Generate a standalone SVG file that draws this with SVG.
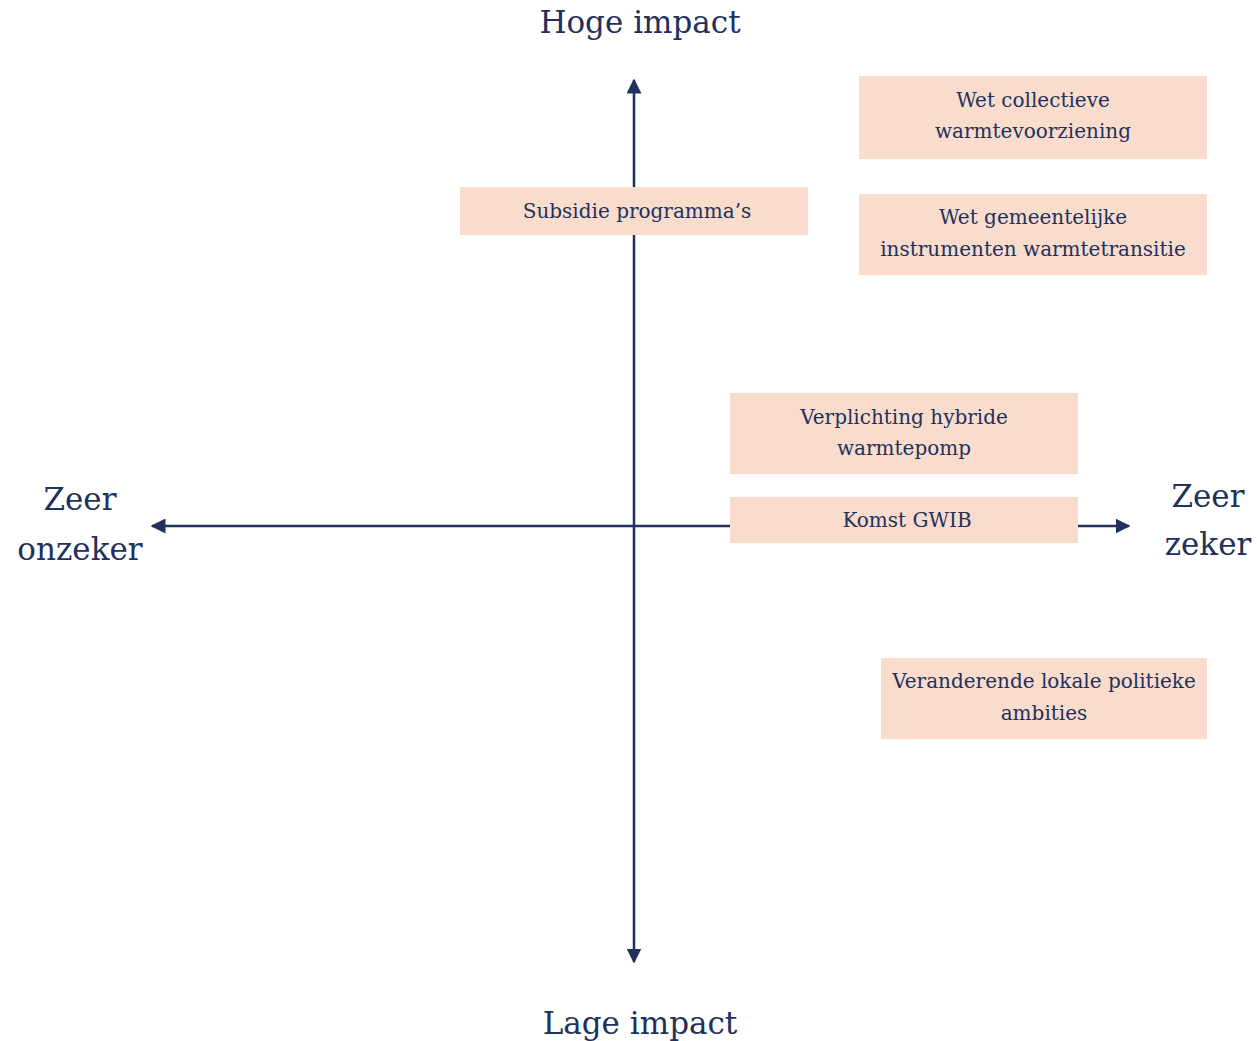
<svg xmlns="http://www.w3.org/2000/svg" width="1257" height="1041" viewBox="0 0 1257 1041">
<defs>
<style>
.box{fill:#f9dccc}
.t{font-family:"DejaVu Serif","Liberation Serif",serif;font-size:20px;fill:#22315c;text-anchor:middle}
.big{font-family:"DejaVu Serif","Liberation Serif",serif;font-size:31px;fill:#22315c;text-anchor:middle}
.ax{stroke:#22315c;stroke-width:2.5;fill:none}
</style>
<marker id="ah" viewBox="0 0 10 10" refX="9" refY="5" markerWidth="6" markerHeight="6" orient="auto-start-reverse" markerUnits="strokeWidth">
<path d="M0,0 L10,5 L0,10 z" fill="#22315c"/>
</marker>
</defs>
<rect width="1257" height="1041" fill="#ffffff"/>
<g id="connectors">
<line class="ax" x1="634" y1="80" x2="634" y2="962" marker-start="url(#ah)" marker-end="url(#ah)"/>
<line class="ax" x1="152" y1="526" x2="1129" y2="526" marker-start="url(#ah)" marker-end="url(#ah)"/>
</g>
<g id="label-hoge"><text class="big" x="640" y="33">Hoge impact</text></g>
<g id="label-lage"><text class="big" x="640" y="1034">Lage impact</text></g>
<g id="label-onzeker"><text class="big" x="80" y="510">Zeer</text><text class="big" x="80" y="560">onzeker</text></g>
<g id="label-zeker"><text class="big" x="1208" y="507">Zeer</text><text class="big" x="1208" y="555">zeker</text></g>
<g id="node-subsidie"><rect class="box" x="460" y="187" width="348" height="48"/><text class="t" x="637" y="218">Subsidie programma’s</text></g>
<g id="node-wcw"><rect class="box" x="859" y="76" width="348" height="83"/><text class="t" x="1033" y="107">Wet collectieve</text><text class="t" x="1033" y="138">warmtevoorziening</text></g>
<g id="node-wgiw"><rect class="box" x="859" y="194" width="348" height="81"/><text class="t" x="1033" y="224">Wet gemeentelijke</text><text class="t" x="1033" y="256">instrumenten warmtetransitie</text></g>
<g id="node-hybride"><rect class="box" x="730" y="393" width="348" height="81"/><text class="t" x="904" y="424">Verplichting hybride</text><text class="t" x="904" y="455">warmtepomp</text></g>
<g id="node-gwib"><rect class="box" x="730" y="497" width="348" height="46"/><text class="t" x="907" y="527">Komst GWIB</text></g>
<g id="node-lokaal"><rect class="box" x="881" y="658" width="326" height="81"/><text class="t" x="1044" y="688">Veranderende lokale politieke</text><text class="t" x="1044" y="720">ambities</text></g>
</svg>
